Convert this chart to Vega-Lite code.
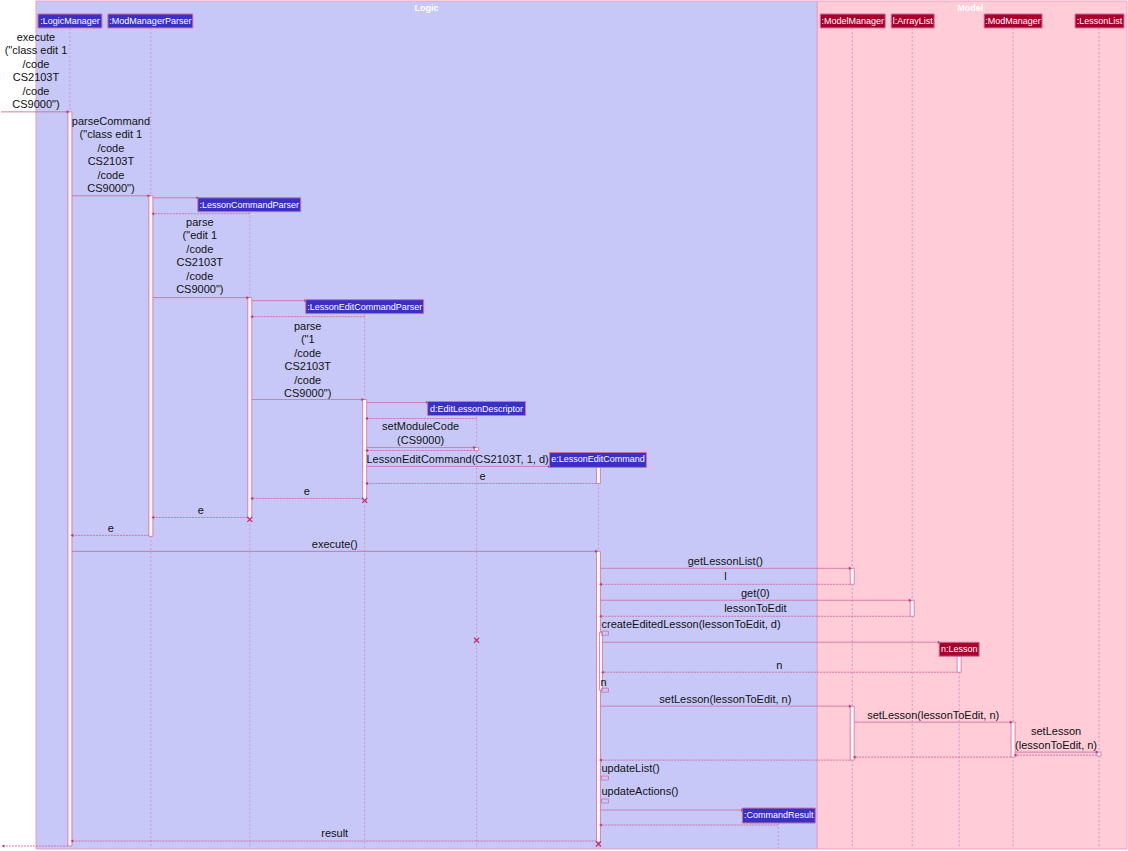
{
  "$schema": "https://vega.github.io/schema/vega-lite/v6.json",
  "width": 1128,
  "height": 851,
  "padding": 0,
  "autosize": {"type": "fit", "contains": "padding"},
  "background": "white",
  "config": {"view": {"stroke": null}, "axis": {"disable": true}},
  "resolve": {"scale": {"color": "independent", "fill": "independent"}},
  "datasets": {
    "packages": [
      {"pkg": "Logic", "x": 35, "x2": 817, "y": 0, "y2": 849, "tx": 426, "ty": 7},
      {"pkg": "Model", "x": 817, "x2": 1127, "y": 0, "y2": 849, "tx": 970, "ty": 7}
    ],
    "participants": [
      {"pkg": "Logic", "name": ":LogicManager", "x": 37, "x2": 101, "y": 13, "y2": 27, "cx": 69},
      {"pkg": "Logic", "name": ":ModManagerParser", "x": 107, "x2": 192, "y": 13, "y2": 27, "cx": 149.5},
      {"pkg": "Model", "name": ":ModelManager", "x": 820, "x2": 885, "y": 13, "y2": 27, "cx": 852.5},
      {"pkg": "Model", "name": "l:ArrayList", "x": 891, "x2": 934, "y": 13, "y2": 27, "cx": 912.5},
      {"pkg": "Model", "name": ":ModManager", "x": 984, "x2": 1042, "y": 13, "y2": 27, "cx": 1013},
      {"pkg": "Model", "name": ":LessonList", "x": 1075, "x2": 1124, "y": 13, "y2": 27, "cx": 1099.5},
      {"pkg": "Logic", "name": ":LessonCommandParser", "x": 197, "x2": 300, "y": 197, "y2": 211, "cx": 248.5},
      {"pkg": "Logic", "name": ":LessonEditCommandParser", "x": 305, "x2": 423, "y": 299, "y2": 313, "cx": 364},
      {"pkg": "Logic", "name": "d:EditLessonDescriptor", "x": 427, "x2": 525, "y": 401, "y2": 415, "cx": 476},
      {"pkg": "Logic", "name": "e:LessonEditCommand", "x": 549, "x2": 646, "y": 452, "y2": 467, "cx": 597.5},
      {"pkg": "Model", "name": "n:Lesson", "x": 939, "x2": 979, "y": 642, "y2": 656, "cx": 959},
      {"pkg": "Logic", "name": ":CommandResult", "x": 742, "x2": 815, "y": 808, "y2": 823, "cx": 778.5}
    ],
    "lifelines": [
      {"x": 69, "y": 27, "y2": 848},
      {"x": 150, "y": 27, "y2": 848},
      {"x": 852, "y": 27, "y2": 848},
      {"x": 912, "y": 27, "y2": 848},
      {"x": 1013, "y": 27, "y2": 848},
      {"x": 1099, "y": 27, "y2": 848},
      {"x": 249, "y": 211, "y2": 848},
      {"x": 364, "y": 313, "y2": 848},
      {"x": 476, "y": 415, "y2": 848},
      {"x": 598, "y": 467, "y2": 848},
      {"x": 959, "y": 656, "y2": 848},
      {"x": 778, "y": 823, "y2": 848}
    ],
    "activations": [
      {"x": 67, "x2": 71, "y": 111, "y2": 846},
      {"x": 148, "x2": 152, "y": 195, "y2": 536},
      {"x": 247, "x2": 251, "y": 297, "y2": 518},
      {"x": 362, "x2": 366, "y": 399, "y2": 500},
      {"x": 474, "x2": 478, "y": 447, "y2": 450},
      {"x": 596, "x2": 600, "y": 467, "y2": 483},
      {"x": 596, "x2": 600, "y": 551, "y2": 842},
      {"x": 599, "x2": 602, "y": 632, "y2": 690},
      {"x": 850, "x2": 854, "y": 568, "y2": 584},
      {"x": 910, "x2": 914, "y": 600, "y2": 616},
      {"x": 850, "x2": 854, "y": 706, "y2": 760},
      {"x": 1011, "x2": 1015, "y": 722, "y2": 757},
      {"x": 1097, "x2": 1101, "y": 752, "y2": 756},
      {"x": 957, "x2": 961, "y": 656, "y2": 672}
    ],
    "selfcalls": [
      {"x": 601, "x2": 608, "y": 631, "y2": 635},
      {"x": 601, "x2": 608, "y": 688, "y2": 692},
      {"x": 601, "x2": 608, "y": 776, "y2": 780},
      {"x": 601, "x2": 608, "y": 799, "y2": 803}
    ],
    "messages": [
      {"x": 0, "x2": 67, "y": 111, "kind": "call", "dir": "right"},
      {"x": 71, "x2": 148, "y": 195, "kind": "call", "dir": "right"},
      {"x": 152, "x2": 197, "y": 197, "kind": "call", "dir": "right"},
      {"x": 249, "x2": 152, "y": 213, "kind": "return", "dir": "left"},
      {"x": 152, "x2": 247, "y": 297, "kind": "call", "dir": "right"},
      {"x": 251, "x2": 305, "y": 300, "kind": "call", "dir": "right"},
      {"x": 364, "x2": 251, "y": 316, "kind": "return", "dir": "left"},
      {"x": 251, "x2": 362, "y": 399, "kind": "call", "dir": "right"},
      {"x": 366, "x2": 427, "y": 402, "kind": "call", "dir": "right"},
      {"x": 476, "x2": 366, "y": 418, "kind": "return", "dir": "left"},
      {"x": 366, "x2": 474, "y": 447, "kind": "call", "dir": "right"},
      {"x": 474, "x2": 366, "y": 450, "kind": "return", "dir": "left"},
      {"x": 366, "x2": 549, "y": 466, "kind": "call", "dir": "right"},
      {"x": 596, "x2": 366, "y": 483, "kind": "return", "dir": "left"},
      {"x": 362, "x2": 251, "y": 498, "kind": "return", "dir": "left"},
      {"x": 247, "x2": 152, "y": 517, "kind": "return", "dir": "left"},
      {"x": 148, "x2": 71, "y": 535, "kind": "return", "dir": "left"},
      {"x": 71, "x2": 596, "y": 551, "kind": "call", "dir": "right"},
      {"x": 600, "x2": 850, "y": 568, "kind": "call", "dir": "right"},
      {"x": 850, "x2": 600, "y": 584, "kind": "return", "dir": "left"},
      {"x": 600, "x2": 910, "y": 600, "kind": "call", "dir": "right"},
      {"x": 910, "x2": 600, "y": 616, "kind": "return", "dir": "left"},
      {"x": 602, "x2": 939, "y": 642, "kind": "call", "dir": "right"},
      {"x": 957, "x2": 602, "y": 672, "kind": "return", "dir": "left"},
      {"x": 600, "x2": 850, "y": 706, "kind": "call", "dir": "right"},
      {"x": 854, "x2": 1011, "y": 722, "kind": "call", "dir": "right"},
      {"x": 1015, "x2": 1097, "y": 752, "kind": "call", "dir": "right"},
      {"x": 1097, "x2": 1015, "y": 755, "kind": "return", "dir": "left"},
      {"x": 1011, "x2": 854, "y": 757, "kind": "return", "dir": "left"},
      {"x": 850, "x2": 600, "y": 760, "kind": "return", "dir": "left"},
      {"x": 600, "x2": 742, "y": 810, "kind": "call", "dir": "right"},
      {"x": 778, "x2": 600, "y": 825, "kind": "return", "dir": "left"},
      {"x": 596, "x2": 71, "y": 841, "kind": "return", "dir": "left"},
      {"x": 67, "x2": 2, "y": 846, "kind": "return", "dir": "left"}
    ],
    "destroys": [
      {"x": 249, "y": 519},
      {"x": 364, "y": 500},
      {"x": 476, "y": 640},
      {"x": 598, "y": 844}
    ],
    "labels": [
      {"x": 35, "y": 37, "align": "center", "text": "execute\n(\"class edit 1\n/code\nCS2103T\n/code\nCS9000\")"},
      {"x": 110, "y": 121, "align": "center", "text": "parseCommand\n(\"class edit 1\n/code\nCS2103T\n/code\nCS9000\")"},
      {"x": 199, "y": 222, "align": "center", "text": "parse\n(\"edit 1\n/code\nCS2103T\n/code\nCS9000\")"},
      {"x": 307, "y": 326, "align": "center", "text": "parse\n(\"1\n/code\nCS2103T\n/code\nCS9000\")"},
      {"x": 420, "y": 427, "align": "center", "text": "setModuleCode\n(CS9000)"},
      {"x": 457, "y": 460, "align": "center", "text": "LessonEditCommand(CS2103T, 1, d)"},
      {"x": 482, "y": 477, "align": "center", "text": "e"},
      {"x": 306, "y": 492, "align": "center", "text": "e"},
      {"x": 200, "y": 511, "align": "center", "text": "e"},
      {"x": 110, "y": 529, "align": "center", "text": "e"},
      {"x": 334, "y": 545, "align": "center", "text": "execute()"},
      {"x": 725, "y": 562, "align": "center", "text": "getLessonList()"},
      {"x": 725, "y": 577, "align": "center", "text": "l"},
      {"x": 755, "y": 594, "align": "center", "text": "get(0)"},
      {"x": 755, "y": 609, "align": "center", "text": "lessonToEdit"},
      {"x": 601, "y": 625, "align": "left", "text": "createEditedLesson(lessonToEdit, d)"},
      {"x": 779, "y": 666, "align": "center", "text": "n"},
      {"x": 600, "y": 683, "align": "left", "text": "n"},
      {"x": 725, "y": 700, "align": "center", "text": "setLesson(lessonToEdit, n)"},
      {"x": 933, "y": 716, "align": "center", "text": "setLesson(lessonToEdit, n)"},
      {"x": 1056, "y": 732, "align": "center", "text": "setLesson\n(lessonToEdit, n)"},
      {"x": 601, "y": 769, "align": "left", "text": "updateList()"},
      {"x": 601, "y": 792, "align": "left", "text": "updateActions()"},
      {"x": 334, "y": 834, "align": "center", "text": "result"}
    ]
  },
  "encoding": {
    "x": {"field": "x", "type": "quantitative", "scale": {"domain": [0, 1128], "nice": false, "zero": false}},
    "y": {"field": "y", "type": "quantitative", "scale": {"domain": [0, 851], "nice": false, "zero": false, "reverse": true}}
  },
  "layer": [
    {
      "data": {"name": "packages"},
      "mark": {"type": "rect", "stroke": "#E8A0C0", "strokeWidth": 1},
      "encoding": {
        "x2": {"field": "x2"},
        "y2": {"field": "y2"},
        "fill": {"field": "pkg", "type": "nominal", "legend": null, "scale": {"domain": ["Logic", "Model"], "range": ["#C8C8F8", "#FFCCD8"]}}
      }
    },
    {
      "data": {"name": "packages"},
      "mark": {"type": "text", "color": "white", "font": "Liberation Sans", "fontSize": 9, "fontWeight": "bold", "baseline": "middle"},
      "encoding": {
        "x": {"field": "tx", "type": "quantitative"},
        "y": {"field": "ty", "type": "quantitative"},
        "text": {"field": "pkg"}
      }
    },
    {
      "data": {"name": "lifelines"},
      "mark": {"type": "rule", "color": "#D296C8", "strokeWidth": 1, "strokeDash": [2, 2]},
      "encoding": {"y2": {"field": "y2"}}
    },
    {
      "data": {"name": "messages"},
      "mark": {"type": "rule", "color": "#CC6699", "strokeWidth": 1, "opacity": 0.85},
      "encoding": {
        "x2": {"field": "x2"},
        "strokeDash": {"field": "kind", "type": "nominal", "legend": null, "scale": {"domain": ["call", "return"], "range": [[1, 0], [2, 1]]}}
      }
    },
    {
      "data": {"name": "activations"},
      "mark": {"type": "rect", "fill": "#FFF6FA", "stroke": "#D070A0", "strokeWidth": 0.8},
      "encoding": {"x2": {"field": "x2"}, "y2": {"field": "y2"}}
    },
    {
      "data": {"name": "selfcalls"},
      "mark": {"type": "rect", "fillOpacity": 0, "stroke": "#D070A0", "strokeWidth": 0.8},
      "encoding": {"x2": {"field": "x2"}, "y2": {"field": "y2"}}
    },
    {
      "data": {"name": "messages"},
      "mark": {"type": "point", "filled": true, "color": "#C03070", "size": 10, "opacity": 1},
      "encoding": {
        "x": {"field": "x2", "type": "quantitative"},
        "shape": {"field": "dir", "type": "nominal", "legend": null, "scale": {"domain": ["right", "left"], "range": ["triangle-right", "triangle-left"]}}
      }
    },
    {
      "data": {"name": "participants"},
      "mark": {"type": "rect", "stroke": "#D070A0", "strokeWidth": 1},
      "encoding": {
        "x2": {"field": "x2"},
        "y2": {"field": "y2"},
        "color": {"field": "pkg", "type": "nominal", "legend": null, "scale": {"domain": ["Logic", "Model"], "range": ["#3A30C4", "#A8002C"]}}
      }
    },
    {
      "data": {"name": "participants"},
      "mark": {"type": "text", "color": "white", "font": "Liberation Sans", "fontSize": 9, "baseline": "middle", "align": "center", "yOffset": 7},
      "encoding": {
        "x": {"field": "cx", "type": "quantitative"},
        "text": {"field": "name"}
      }
    },
    {
      "data": {"name": "destroys"},
      "mark": {"type": "point", "shape": "M-1,-1L1,1M1,-1L-1,1", "filled": false, "color": "#C03070", "strokeWidth": 1.3, "size": 25, "opacity": 1},
      "encoding": {}
    },
    {
      "data": {"name": "labels"},
      "transform": [{"filter": "datum.align === 'center'"}],
      "mark": {"type": "text", "color": "#111111", "font": "Liberation Sans", "fontSize": 11, "baseline": "middle", "align": "center", "lineBreak": "\n", "lineHeight": 13.5},
      "encoding": {"text": {"field": "text"}}
    },
    {
      "data": {"name": "labels"},
      "transform": [{"filter": "datum.align === 'left'"}],
      "mark": {"type": "text", "color": "#111111", "font": "Liberation Sans", "fontSize": 11, "baseline": "middle", "align": "left", "lineBreak": "\n", "lineHeight": 13.5},
      "encoding": {"text": {"field": "text"}}
    }
  ]
}
